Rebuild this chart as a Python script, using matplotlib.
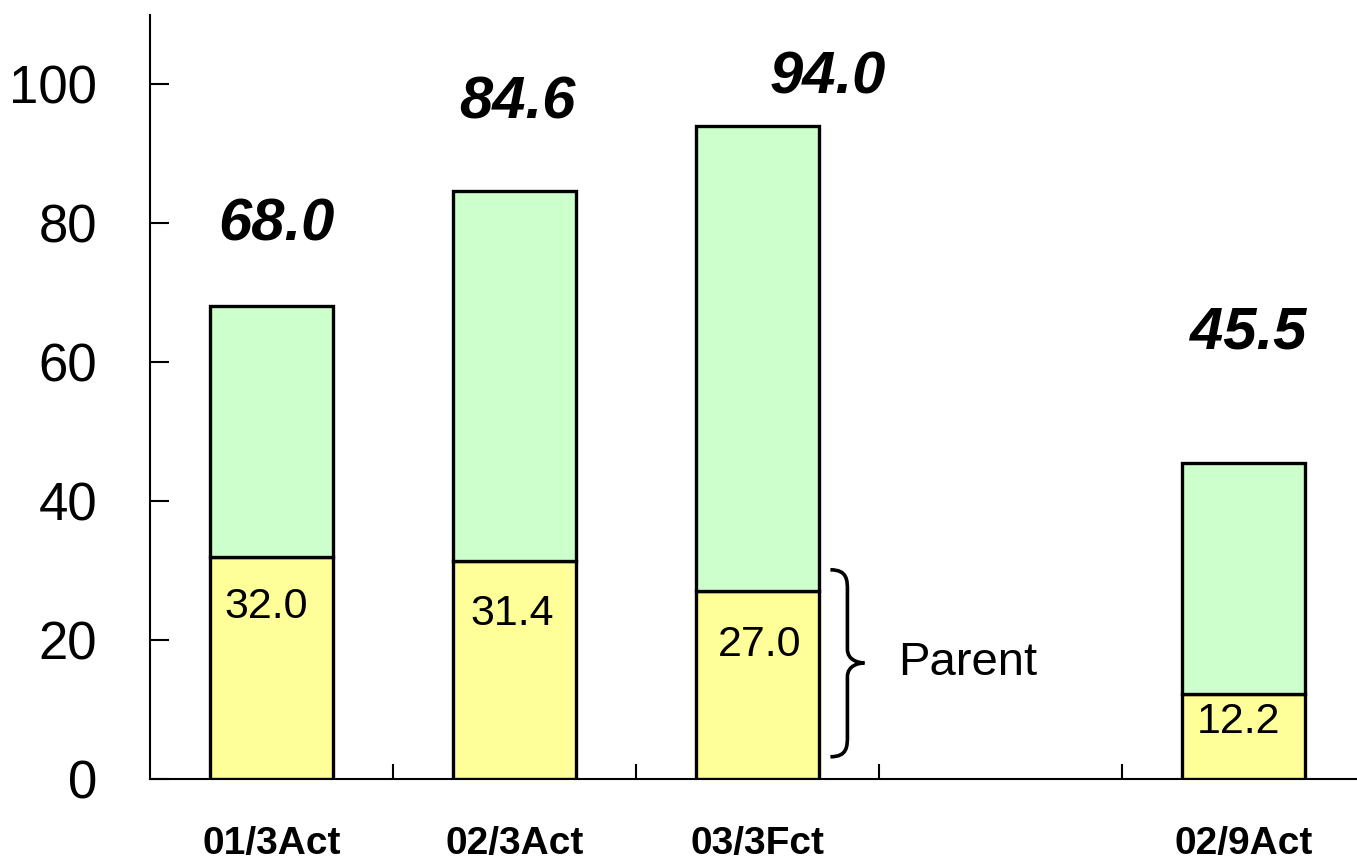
import matplotlib
matplotlib.use("Agg")
import matplotlib.pyplot as plt
from matplotlib.path import Path
from matplotlib.patches import PathPatch

# ---- data ----
categories = ["01/3Act", "02/3Act", "03/3Fct", "", "02/9Act"]
bar_pos = [0, 1, 2, 4]
parent = [32.0, 31.4, 27.0, 12.2]
total = [68.0, 84.6, 94.0, 45.5]
yticks = [0, 20, 40, 60, 80, 100]

# layout helpers (label placement)
total_label_y = [79.7, 97.3, 100.9, 64.2]
total_label_dx = [0.02, 0.01, 0.29, 0.02]
parent_label_y = [24.7, 23.7, 19.3, 8.2]
parent_label_dx = [-0.02, -0.01, 0.01, -0.02]

plt.rcParams['font.family'] = ['Liberation Sans', 'DejaVu Sans']

W, H = 1357, 864
fig = plt.figure(figsize=(W / 100, H / 100), dpi=100)
ax_left, ax_right = 150, 1365
ax_bottom, ax_top = 779, 14.5
ax = fig.add_axes([ax_left / W, 1 - ax_bottom / H, (ax_right - ax_left) / W, (ax_bottom - ax_top) / H])

other = [t - p for t, p in zip(total, parent)]
bw = 0.51
ax.bar(bar_pos, parent, width=bw, color="#FFFF99", edgecolor="black", linewidth=2.4, zorder=3)
ax.bar(bar_pos, other, bottom=parent, width=bw, color="#CCFFCC", edgecolor="black", linewidth=2.4, zorder=3)

for x, t, ty, dx in zip(bar_pos, total, total_label_y, total_label_dx):
    ax.text(x + dx, ty, f"{t:.1f}", ha="center", va="center", fontsize=43,
            fontweight="bold", fontstyle="italic", zorder=5)
for x, p, py, dx in zip(bar_pos, parent, parent_label_y, parent_label_dx):
    ax.text(x + dx, py, f"{p:.1f}", ha="center", va="center", fontsize=31, zorder=5)

ax.set_xlim(-0.5, 4.5)
ax.set_ylim(0, 110)
ax.set_yticks(yticks)
ax.tick_params(axis="y", direction="in", length=14, width=1.5, pad=38, labelsize=38)
ax.set_xticks(range(len(categories)))
ax.set_xticklabels(categories, fontsize=28, fontweight="bold")
ax.set_xticks([0.5, 1.5, 2.5, 3.5], minor=True)
ax.tick_params(axis="x", which="major", length=0, pad=34)
ax.tick_params(axis="x", which="minor", direction="in", length=11, width=1.5)
for s in ["top", "right"]:
    ax.spines[s].set_visible(False)
for s in ["left", "bottom"]:
    ax.spines[s].set_linewidth(1.5)

# curly brace next to bar 3 parent segment
x0, xm, xt = 2.30, 2.37, 2.44
ytop, ybot, ymid = 30.1, 3.2, 16.7
verts = [
    (x0, ytop), (xm, ytop), (xm, ytop - 1.5), (xm, ytop - 3.0),
    (xm, ymid + 2.0),
    (xm, ymid + 0.3), (xt - 0.02, ymid), (xt, ymid),
    (xt - 0.02, ymid), (xm, ymid - 0.3), (xm, ymid - 2.0),
    (xm, ybot + 3.0),
    (xm, ybot + 1.5), (xm, ybot), (x0, ybot),
]
codes = [Path.MOVETO, Path.CURVE4, Path.CURVE4, Path.CURVE4,
         Path.LINETO,
         Path.CURVE4, Path.CURVE4, Path.CURVE4,
         Path.CURVE4, Path.CURVE4, Path.CURVE4,
         Path.LINETO,
         Path.CURVE4, Path.CURVE4, Path.CURVE4]
ax.add_patch(PathPatch(Path(verts, codes), fill=False, lw=2.6, edgecolor="black",
                       clip_on=False, zorder=4))
ax.text(2.58, 16.7, "Parent", ha="left", va="center", fontsize=34)

fig.savefig("out.png", dpi=100)
